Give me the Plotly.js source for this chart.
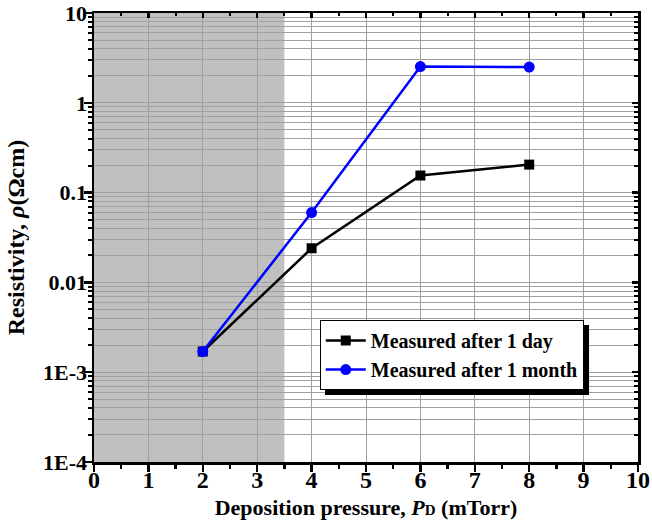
<!DOCTYPE html>
<html>
<head>
<meta charset="utf-8">
<script src="https://cdn.plot.ly/plotly-3.0.1.min.js"></script>
<style>html,body{margin:0;padding:0;background:#fff;}#chart{width:652px;height:529px;}</style>
</head>
<body>
<div id="chart"></div>
<script>
// Data
const pressure = [2, 4, 6, 8];
const rhoOneDay = [0.0017, 0.024, 0.155, 0.205];
const rhoOneMonth = [0.0017, 0.060, 2.53, 2.50];
const seriesNames = ["Measured after 1 day", "Measured after 1 month"];
const yTickVals = [1e-4, 1e-3, 0.01, 0.1, 1, 10];
const yTickText = ["1E-4", "1E-3", "0.01", "0.1", "1", "10"];
const xRange = [0, 10];
const yLogRange = [-4, 1];
const shadedRange = [0, 3.5];

const FONT = "Liberation Serif";
const gridCol = "#a0a0a0";

const traces = [
  {
    x: pressure, y: rhoOneDay, name: seriesNames[0], type: "scatter", mode: "lines+markers",
    line: {color: "#000000", width: 2.5},
    marker: {symbol: "square", size: 10, color: "#000000"}
  },
  {
    x: pressure, y: rhoOneMonth, name: seriesNames[1], type: "scatter", mode: "lines+markers",
    line: {color: "#0000ff", width: 2.5},
    marker: {symbol: "circle", size: 11, color: "#0000ff"}
  },
  {x: [], y: [], xaxis: "x2", yaxis: "y2", showlegend: false, hoverinfo: "skip", type: "scatter"},
  {x: [], y: [], xaxis: "x3", yaxis: "y3", showlegend: false, hoverinfo: "skip", type: "scatter"}
];

const frameAxis = {
  showline: true, linewidth: 2.5, linecolor: "#000",
  showticklabels: false, showgrid: false, zeroline: false, tickcolor: "#000", tickwidth: 2.5
};

const layout = {
  width: 652, height: 529,
  margin: {l: 94, r: 14, t: 13, b: 67},
  paper_bgcolor: "#ffffff", plot_bgcolor: "#ffffff",
  font: {family: FONT, size: 20, color: "#000000", weight: "bold"},
  showlegend: true,
  legend: {
    x: 0.415, y: 0.316, xanchor: "left", yanchor: "top",
    bgcolor: "#ffffff", bordercolor: "#000000", borderwidth: 1,
    font: {family: FONT, size: 20, color: "#000000", weight: "bold"},
    tracegroupgap: 0, itemwidth: 40
  },
  xaxis: {
    range: xRange, dtick: 1, tick0: 0, ticks: "",
    showline: true, linewidth: 2.5, linecolor: "#000",
    showgrid: true, gridcolor: gridCol, gridwidth: 1,
    zeroline: false, ticklabelstandoff: -5,
    tickfont: {family: FONT, size: 24, weight: "bold", color: "#000"},
    title: {text: "Deposition pressure, <i>P</i><span style=\"font-size:15px\">D</span> (mTorr)", font: {family: FONT, size: 22, weight: "bold"}, standoff: 8}
  },
  yaxis: {
    type: "log", range: yLogRange, ticks: "",
    tickmode: "array", tickvals: yTickVals, ticktext: yTickText,
    showline: true, linewidth: 2.5, linecolor: "#000",
    showgrid: true, gridcolor: gridCol, gridwidth: 1,
    zeroline: false,
    tickfont: {family: FONT, size: 22, weight: "bold", color: "#000"},
    minor: {dtick: "D1", ticks: "", showgrid: true, gridcolor: gridCol, gridwidth: 1},
    title: {text: "Resistivity, <i>ρ</i>(Ωcm)", font: {family: FONT, size: 24, weight: "bold"}, standoff: 12}
  },
  xaxis2: Object.assign({}, frameAxis, {
    overlaying: "x", side: "top", anchor: "y", range: xRange, dtick: 1, tick0: 0,
    ticks: "inside", ticklen: 5,
    minor: {dtick: 0.5, ticks: "inside", ticklen: 3, tickwidth: 2, tickcolor: "#000", showgrid: false}
  }),
  yaxis2: Object.assign({}, frameAxis, {
    overlaying: "y", side: "right", anchor: "x", type: "log", range: yLogRange, dtick: 1,
    ticks: "inside", ticklen: 6,
    minor: {dtick: "D1", ticks: "inside", ticklen: 4, tickwidth: 2, tickcolor: "#000", showgrid: false}
  }),
  xaxis3: Object.assign({}, frameAxis, {
    overlaying: "x", side: "bottom", anchor: "y", range: xRange, dtick: 1, tick0: 0,
    ticks: "outside", ticklen: 7,
    minor: {dtick: 0.5, ticks: "outside", ticklen: 4, tickwidth: 2.5, tickcolor: "#000", showgrid: false}
  }),
  yaxis3: Object.assign({}, frameAxis, {
    overlaying: "y", side: "left", anchor: "x", type: "log", range: yLogRange, dtick: 1,
    ticks: "outside", ticklen: 8,
    minor: {dtick: "D1", ticks: "outside", ticklen: 4, tickwidth: 2, tickcolor: "#000", showgrid: false}
  }),
  shapes: [
    {type: "rect", xref: "x", yref: "paper", x0: shadedRange[0], x1: shadedRange[1], y0: 0, y1: 1,
     fillcolor: "#c0c0c0", line: {width: 0}, layer: "below"},
    {type: "rect", xref: "paper", yref: "paper", x0: 0.4246, x1: 0.91, y0: 0.149, y1: 0.305,
     fillcolor: "#000000", line: {width: 0}, layer: "above"}
  ]
};

Plotly.newPlot("chart", traces, layout, {displayModeBar: false, staticPlot: true});
</script>
</body>
</html>
